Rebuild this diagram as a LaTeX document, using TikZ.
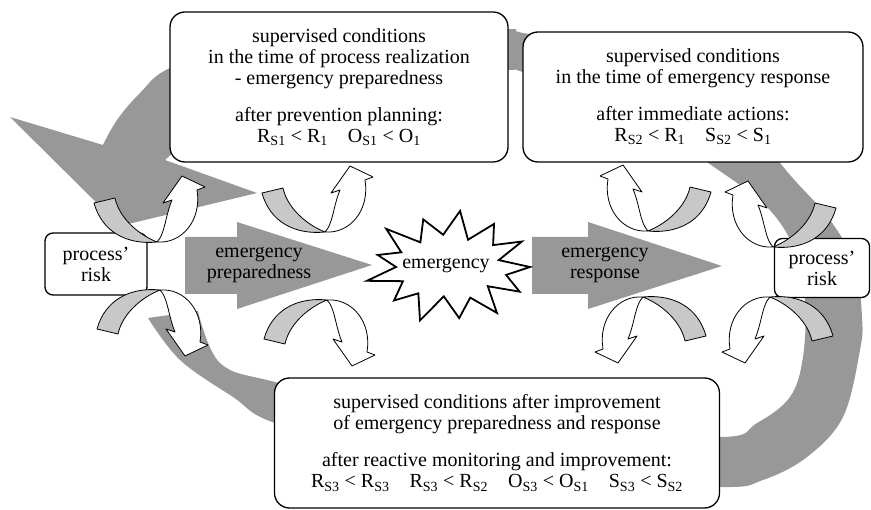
\documentclass[tikz,border=0pt]{standalone}
\usepackage{fontspec}
\setmainfont{Liberation Serif}
\usetikzlibrary{positioning}
\definecolor{bandgray}{RGB}{152,152,152}
\definecolor{ribbongray}{RGB}{200,200,200}
\tikzset{
  uturn/.pic={
    \filldraw[ribbon] (-63,-39) .. controls (-55,-10) and (-30,3) .. (0,0)
      .. controls (-20,-8) and (-38,-25) .. (-42,-44) -- cycle;
    \filldraw[outline,fill=white] (0,0) .. controls (25,2) and (45,-22) .. (40,-52)
      -- (48,-55) -- (25,-66) -- (6,-39) -- (15,-42)
      .. controls (8,-25) and (8,-8) .. (0,0) -- cycle;
  }
}
\begin{document}
\begin{tikzpicture}[x=1pt,y=-1pt,
  txt/.style={font=\fontsize{20}{21}\selectfont,align=center,inner sep=0pt},
  cbox/.style={txt,draw,fill=white,line width=1.3pt,rounded corners=15pt},
  rbox/.style={txt,draw,fill=white,line width=1.3pt,rounded corners=8pt,minimum width=102pt,minimum height=62pt},
  outline/.style={draw=black,line width=0.8pt,line join=round},
  ribbon/.style={outline,fill=ribbongray},
  bigarrow/.style={fill=bandgray},
  burst/.style={draw,fill=white,line width=1.8pt,line join=miter}]
\useasboundingbox (0,0) rectangle (871,510);

\fill[bandgray] (148,318) -- plot[smooth,tension=0.6] coordinates {(148,318) (180,360) (233,397) (275,423) (400,455) (560,478) (720,487) (763,480) (807,457) (843,417) (860,350) (862,317) (855,265) (830,220) (790,175) (720,95) (620,50) (523,33) (508,29) (400,30) (250,42) (170,68) (140,93) (117,120) (103,145)}
  -- (10,117) -- (120,226) -- (257,193) -- (165,160)
  -- plot[smooth,tension=0.6] coordinates {(165,160) (250,100) (380,75) (508,70) (523,72) (620,100) (707,162) (765,205) (795,250) (805,300) (803,357) (790,397) (757,423) (720,437) (560,425) (400,410) (275,382) (220,363) (198,311)} -- cycle;

\fill[bigarrow] (185,237) -- (237,237) -- (237,222) -- (372,265) -- (237,309) -- (237,294) -- (185,294) -- cycle;
\fill[bigarrow] (532,237) -- (588,237) -- (588,222) -- (722,266) -- (588,309) -- (588,294) -- (532,294) -- cycle;
\node[txt] (prep) at (259,265) {emergency\\preparedness};
\node[txt] (resp) at (605,265) {emergency\\response};

\draw[burst] plot[samples at={0,...,25},variable=\k] ({450+(80-26*mod(\k,2))*(1+0.07*sin(\k*97))*cos(\k*360/26)},{267+(54-23*mod(\k,2))*(1+0.07*sin(\k*97))*sin(\k*360/26)}) -- cycle;
\node[txt] (emerg) at (446,266) {emergency};

\node[cbox,minimum width=338pt,minimum height=150pt] (ctop) at (339,87) {supervised conditions\\ in the time of process realization\\ - emergency preparedness\\[16pt] after prevention planning:\\ R\textsubscript{S1} < R\textsubscript{1}\quad O\textsubscript{S1} < O\textsubscript{1}};
\node[cbox,minimum width=340pt,minimum height=130pt] (cresp) at (693,97) {supervised conditions\\ in the time of emergency response\\[16pt] after immediate actions:\\ R\textsubscript{S2} < R\textsubscript{1}\quad S\textsubscript{S2} < S\textsubscript{1}};
\node[cbox,minimum width=445pt,minimum height=130pt] (cimpr) at (497,443) {supervised conditions after improvement\\ of emergency preparedness and response\\[16pt] after reactive monitoring and improvement:\\ R\textsubscript{S3} < R\textsubscript{S3}\quad R\textsubscript{S3} < R\textsubscript{S2}\quad O\textsubscript{S3} < O\textsubscript{S1}\quad S\textsubscript{S3} < S\textsubscript{S2}};
\node[rbox] (lrisk) at (96,264) {process'\\risk};
\node[rbox,minimum width=95pt,minimum height=59pt] (rrisk) at (822,268) {process'\\risk};

\pic at (157,242) {uturn};
\pic at (325,232) {uturn};
\pic[xscale=-1] at (648,231) {uturn};
\pic[xscale=-1] at (773,247) {uturn};
\pic[yscale=-1] at (160,290) {uturn};
\pic[yscale=-1] at (327,300) {uturn};
\pic[xscale=-1,yscale=-1] at (643,297) {uturn};
\pic[xscale=-1,yscale=-1] at (770,297) {uturn};
\end{tikzpicture}
\end{document}
